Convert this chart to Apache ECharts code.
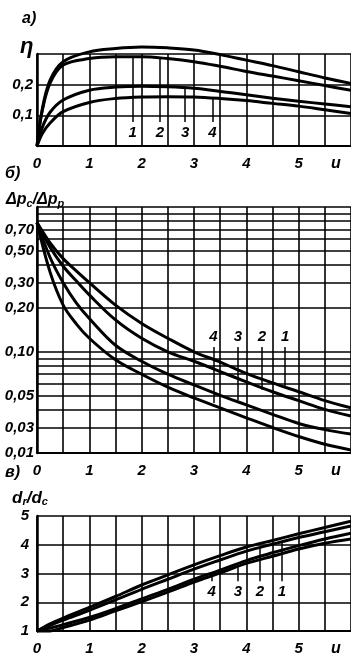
<!DOCTYPE html>
<html><head><meta charset="utf-8">
<script src="https://cdn.jsdelivr.net/npm/echarts@6/dist/echarts.min.js"></script>
<style>html,body{margin:0;padding:0;background:#fff}#c{width:351px;height:657px}</style>
</head><body><div id="c"></div>
<script>
// ---- panel а) : η vs u
const uA = [0, 0.1, 0.25, 0.5, 1, 1.5, 2, 2.5, 3, 3.5, 4, 4.5, 5, 5.5, 6];
const etaCurve1 = [0, 0.12, 0.215, 0.275, 0.307, 0.318, 0.323, 0.32, 0.313, 0.298, 0.28, 0.262, 0.242, 0.222, 0.204];
const etaCurve2 = [0, 0.115, 0.205, 0.264, 0.285, 0.291, 0.291, 0.285, 0.275, 0.26, 0.243, 0.228, 0.213, 0.197, 0.182];
const etaCurve3 = [0, 0.06, 0.11, 0.15, 0.182, 0.192, 0.195, 0.193, 0.188, 0.178, 0.167, 0.156, 0.146, 0.137, 0.128];
const etaCurve4 = [0, 0.04, 0.075, 0.112, 0.142, 0.155, 0.16, 0.161, 0.16, 0.155, 0.148, 0.139, 0.13, 0.118, 0.106];
const aYTickValues = [0.1, 0.2];
const aYTickLabels = ['0,1', '0,2'];
const aLeaders = [ // text, u, value at label end, value at curve end
  ['1', 1.83, 0.078, 0.288], ['2', 2.35, 0.078, 0.29], ['3', 2.83, 0.078, 0.189], ['4', 3.35, 0.078, 0.157]
];

// ---- panel б) : Δpc/Δpp vs u (log scale)
const uB = [0, 0.25, 0.5, 0.75, 1, 1.5, 2, 2.5, 3, 3.5, 4, 4.5, 5, 5.5, 6];
const dpCurve1 = [0.78, 0.565, 0.44, 0.362, 0.30, 0.21, 0.157, 0.124, 0.1, 0.085, 0.071, 0.061, 0.053, 0.046, 0.041];
const dpCurve2 = [0.78, 0.527, 0.39, 0.309, 0.247, 0.166, 0.124, 0.1, 0.086, 0.073, 0.062, 0.053, 0.046, 0.040, 0.036];
const dpCurve3 = [0.78, 0.448, 0.30, 0.218, 0.17, 0.111, 0.086, 0.07, 0.059, 0.05, 0.043, 0.037, 0.032, 0.029, 0.027];
const dpCurve4 = [0.78, 0.355, 0.21, 0.156, 0.124, 0.088, 0.07, 0.057, 0.048, 0.041, 0.035, 0.03, 0.026, 0.023, 0.021];
const bGridValues = [1, 0.9, 0.8, 0.7, 0.6, 0.5, 0.4, 0.3, 0.2, 0.1, 0.09, 0.08, 0.07, 0.06, 0.05, 0.04, 0.03, 0.02];
const bTickValues = [0.7, 0.5, 0.3, 0.2, 0.1, 0.05, 0.03, 0.02];
const bTickLabels = ['0,70', '0,50', '0,30', '0,20', '0,10', '0,05', '0,03', '0,01'];
const bLeaders = [
  ['4', 3.37, 0.108, 0.0443], ['3', 3.84, 0.108, 0.0465], ['2', 4.30, 0.108, 0.0546], ['1', 4.74, 0.108, 0.0564]
];

// ---- panel в) : dr/dc vs u
const uC = [0, 0.25, 0.5, 1, 1.5, 2, 2.5, 3, 3.5, 4, 4.5, 5, 5.5, 6];
const drCurve1 = [1, 1.25, 1.45, 1.82, 2.2, 2.6, 2.95, 3.3, 3.62, 3.92, 4.15, 4.38, 4.6, 4.82];
const drCurve2 = [1, 1.2, 1.38, 1.72, 2.08, 2.45, 2.8, 3.15, 3.47, 3.78, 4.02, 4.25, 4.45, 4.65];
const drCurve3 = [1, 1.1, 1.22, 1.47, 1.78, 2.12, 2.45, 2.8, 3.12, 3.45, 3.72, 3.97, 4.2, 4.4];
const drCurve4 = [1, 1.0, 1.12, 1.38, 1.7, 2.02, 2.35, 2.7, 3.02, 3.35, 3.6, 3.85, 4.05, 4.2];
const cYTickValues = [1, 2, 3, 4, 5];
const cYTickLabels = ['1', '2', '3', '4', '5'];
const cLeaders = [
  ['4', 3.34, 2.73, 3.02], ['3', 3.84, 2.73, 3.24], ['2', 4.26, 2.73, 3.9], ['1', 4.68, 2.73, 4.08]
];

// ---- shared x axis
const xTickValues = [0, 1, 2, 3, 4, 5];
const xTickLabels = ['0', '1', '2', '3', '4', '5'];

const FONT = 'Liberation Sans';
const BLACK = '#000';
function lookup(vals, labels) {
  return function (v) {
    for (let i = 0; i < vals.length; i++) {
      if (Math.abs(vals[i] - v) <= 1e-6 * Math.max(1, Math.abs(vals[i]))) return labels[i];
    }
    return '';
  };
}
function pairs(us, vs) { return us.map((u, i) => [u, vs[i]]); }

const lblFont = { color: BLACK, fontFamily: FONT, fontStyle: 'italic', fontWeight: 'bold', fontSize: 15 };
function xAxis(gi) {
  return {
    type: 'value', gridIndex: gi, min: 0, max: 6, interval: 0.5,
    axisLine: { show: true, onZero: false, lineStyle: { color: BLACK, width: 2 } },
    axisTick: { show: false },
    splitLine: { show: true, lineStyle: { color: BLACK, width: 1.6 } },
    axisLabel: Object.assign({ customValues: xTickValues, formatter: lookup(xTickValues, xTickLabels), margin: 10 }, lblFont),
    name: 'u', nameLocation: 'end', nameGap: -20,
    nameTextStyle: Object.assign({}, lblFont, { fontSize: 16, verticalAlign: 'top', padding: [10, 0, 0, 0] })
  };
}
function yLabel(vals, labels, margin) {
  return Object.assign({ customValues: vals, formatter: lookup(vals, labels), margin: margin }, lblFont);
}
const axisLineY = { show: true, onZero: false, lineStyle: { color: BLACK, width: 2.5 } };
const splitY = { show: true, lineStyle: { color: BLACK, width: 1.6 } };

function curve(name, gi, us, vs) {
  return { name: name, type: 'line', xAxisIndex: gi, yAxisIndex: gi, data: pairs(us, vs),
    showSymbol: false, symbol: 'none', smooth: 0.35, silent: true, clip: false,
    lineStyle: { color: BLACK, width: 3 }, z: 3 };
}
function leaders(gi, list) {
  return { type: 'line', xAxisIndex: gi, yAxisIndex: gi, data: [], silent: true,
    markLine: { symbol: 'none', silent: true, animation: false,
      lineStyle: { color: BLACK, width: 1.5, type: 'solid' },
      label: Object.assign({ show: true, position: 'start', formatter: '{b}', distance: 3 }, lblFont),
      emphasis: { disabled: true },
      data: list.map(l => [{ coord: [l[1], l[2]], name: l[0] }, { coord: [l[1], l[3]] }]) } };
}

const tStyle = { color: BLACK, fontFamily: FONT, fontStyle: 'italic', fontWeight: 'bold', fontSize: 16 };
const subStyle = { color: BLACK, fontFamily: FONT, fontStyle: 'italic', fontWeight: 'bold', fontSize: 11, padding: [8, 0, 0, 0] };
const option = {
  animation: false,
  backgroundColor: '#fff',
  title: [
    { text: 'а)', left: 22, top: 11, padding: 0, textStyle: tStyle },
    { text: 'η', left: 20, top: 36, padding: 0, textStyle: Object.assign({}, tStyle, { fontSize: 22 }) },
    { text: 'б)', left: 5, top: 166, padding: 0, textStyle: tStyle },
    { text: '{m|Δp}{s|c}{m|/Δp}{s|p}', left: 6, top: 190, padding: 0,
      textStyle: { rich: { m: tStyle, s: subStyle } } },
    { text: 'в)', left: 5, top: 465, padding: 0, textStyle: tStyle },
    { text: '{m|d}{s|r}{m|/d}{s|c}', left: 12, top: 490, padding: 0,
      textStyle: { rich: { m: Object.assign({}, tStyle, { fontSize: 17 }), s: Object.assign({}, subStyle, { padding: [6, 0, 0, 0] }) } } }
  ],
  grid: [
    { left: 37, width: 316, top: 54, height: 92 },
    { left: 37, width: 316, top: 207, height: 246 },
    { left: 37, width: 316, top: 516, height: 118 }
  ],
  xAxis: [xAxis(0), xAxis(1), xAxis(2)],
  yAxis: [
    { type: 'value', gridIndex: 0, min: 0, max: 0.3, interval: 0.1, axisLine: axisLineY,
      axisTick: { show: false }, splitLine: splitY, axisLabel: yLabel(aYTickValues, aYTickLabels, 4) },
    { type: 'log', logBase: 10, gridIndex: 1, min: 0.02, max: 1, axisLine: axisLineY,
      axisTick: { show: false, customValues: bGridValues }, splitLine: splitY,
      axisLabel: yLabel(bTickValues, bTickLabels, 3) },
    { type: 'value', gridIndex: 2, min: 1, max: 5, interval: 1, axisLine: axisLineY,
      axisTick: { show: false }, splitLine: splitY, axisLabel: yLabel(cYTickValues, cYTickLabels, 8) }
  ],
  series: [
    curve('1', 0, uA, etaCurve1), curve('2', 0, uA, etaCurve2), curve('3', 0, uA, etaCurve3), curve('4', 0, uA, etaCurve4),
    curve('1', 1, uB, dpCurve1), curve('2', 1, uB, dpCurve2), curve('3', 1, uB, dpCurve3), curve('4', 1, uB, dpCurve4),
    curve('1', 2, uC, drCurve1), curve('2', 2, uC, drCurve2), curve('3', 2, uC, drCurve3), curve('4', 2, uC, drCurve4),
    leaders(0, aLeaders), leaders(1, bLeaders), leaders(2, cLeaders)
  ]
};
const chart = echarts.init(document.getElementById('c'), null, { renderer: 'canvas' });
chart.setOption(option);
</script>
</body></html>
